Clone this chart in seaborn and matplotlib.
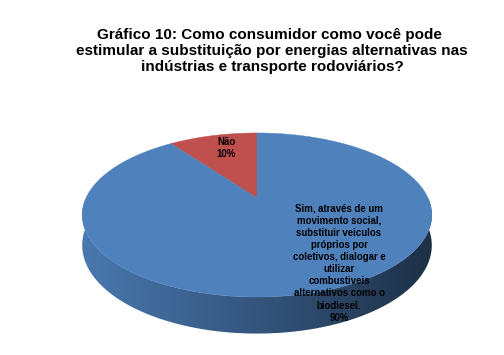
import numpy as np
import matplotlib
matplotlib.use("Agg")
import matplotlib.pyplot as plt
from matplotlib.colors import LinearSegmentedColormap
import seaborn as sns

# ── Data ───────────────────────────────────────────────────────────────────────
TITLE = ("Gráfico 10: Como consumidor como você pode \n"
         "estimular a substituição por energias alternativas nas\n"
         "indústrias e transporte rodoviários?")
labels = ["Não",
          "Sim, através de um\nmovimento social,\nsubstituir veiculos\npróprios por\n"
          "coletivos, dialogar e\nutilizar\ncombustiveis\nalternativos como o\nbiodiesel."]
shares = [10, 90]
hex_colors = ["#C0504D", "#4F81BD"]
label_pos = [(226, 148), (339, 263)]

# ── Style ──────────────────────────────────────────────────────────────────────
sns.set_theme(style="white")
plt.rcParams["font.family"] = ["Liberation Sans", "DejaVu Sans"]
palette = sns.color_palette(hex_colors)

# geometry of the tilted disk (pixel space)
CX, CY = 257, 198      # pie centre (apex)
A, B = 171, 78.5       # radii before perspective
K = 0.207              # perspective strength (back smaller)
DEPTH = 29             # thickness


def proj(u, v, d=0.0):
    w = 1 + K * v
    return CX + A * u / w, CY + (-B * v + DEPTH * d) / w


fig = plt.figure(figsize=(5.04, 3.55), dpi=100)
ax = fig.add_axes([0, 0, 1, 1])
ax.set_xlim(0, 504)
ax.set_ylim(355, 0)
ax.axis("off")

# wedge angles: start at 12 o'clock, counter-clockwise
fracs = np.array(shares, dtype=float) / sum(shares)
starts = np.pi / 2 + 2 * np.pi * np.concatenate([[0], np.cumsum(fracs)[:-1]])
ends = starts + 2 * np.pi * fracs

# side wall (front half) – only the big slice shows there; gradient left→right
front = int(np.argmax(fracs))
ts = np.linspace(np.pi, 2 * np.pi, 300)
top = [proj(np.cos(t), np.sin(t)) for t in ts]
bot = [proj(np.cos(t), np.sin(t), 1) for t in ts[::-1]]
side = plt.Polygon(top + bot, closed=True, fc="none", ec="none")
ax.add_patch(side)
base = np.array(palette[front])
cmap = LinearSegmentedColormap.from_list(
    "side", [base * 0.93, base * 0.66, base * 0.37])
x0, x1 = CX - A * 1.03, CX + A * 1.03
grad = np.linspace(0, 1, 256)[None, :]
im = ax.imshow(grad, cmap=cmap, extent=(x0, x1, 340, 190), aspect="auto",
               interpolation="bilinear")
im.set_clip_path(side)
ax.set_xlim(0, 504)
ax.set_ylim(355, 0)

# top face
for i, (s, e) in enumerate(zip(starts, ends)):
    tt = np.linspace(s, e, max(int(300 * fracs[i]), 10))
    pts = [proj(0, 0)] + [proj(np.cos(t), np.sin(t)) for t in tt]
    ax.add_patch(plt.Polygon(pts, closed=True, fc=palette[i], ec=palette[i], lw=0.3))

# labels
for lab, share, (lx, ly) in zip(labels, shares, label_pos):
    ax.text(lx, ly, f"{lab}\n{share}%", ha="center", va="center",
            fontsize=6.9, fontweight="bold", color="black", linespacing=1.27)

ax.text(272, 51, TITLE, ha="center", va="center", fontsize=11,
        fontweight="bold", color="black", linespacing=1.2)

fig.savefig("out.png", dpi=100)
